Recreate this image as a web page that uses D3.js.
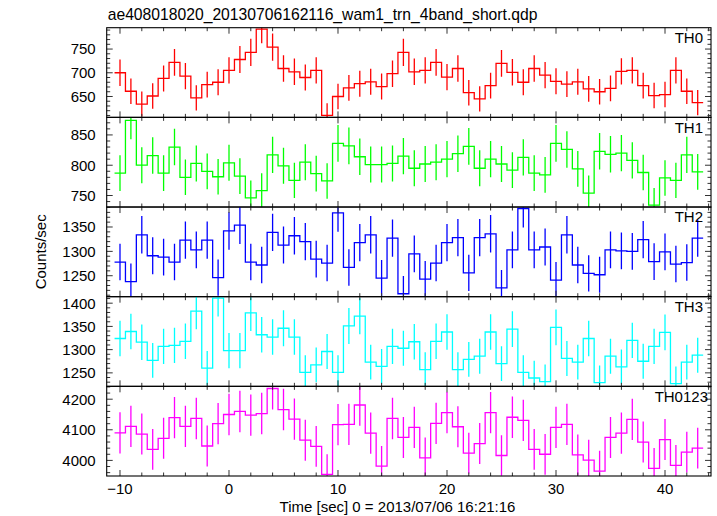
<!DOCTYPE html>
<html>
<head>
<meta charset="utf-8">
<script src="https://cdn.jsdelivr.net/npm/d3@7"></script>
<style>
  html, body { margin: 0; padding: 0; background: #fff; }
  svg { display: block; }
  text { font-family: "Liberation Sans", Arial, Helvetica, sans-serif; fill: #000; }
</style>
</head>
<body>
<svg id="chart" width="717" height="516"></svg>
<script>
// ---------------- data ----------------
const titleText = "ae408018020_20130706162116_wam1_trn_4band_short.qdp";
const xLabel = "Time [sec] 0 = 2013/07/06 16:21:16";
const yLabel = "Counts/sec";

// bin centres (s), 1 s bins
const times = d3.range(-10, 44);

const panelNames = ["TH0", "TH1", "TH2", "TH3", "TH0123"];
const panelColors = ["#ff0000", "#00ff00", "#0000ff", "#00ffff", "#ff00ff"];

const th0 = [700, 661, 634, 651, 688, 722, 693, 647, 675, 680,
  705, 728, 743, 792, 754, 709, 702, 690, 705, 610,
  650, 668, 677, 681, 671, 698, 743, 702, 705, 722,
  691, 709, 658, 645, 673, 720, 701, 680, 709, 695,
  682, 676, 681, 666, 660, 667, 703, 705, 673, 652,
  654, 705, 661, 637];

const th1 = [787, 874, 800, 816, 787, 830, 780, 803, 790, 781,
  804, 782, 746, 758, 817, 799, 775, 805, 786, 774,
  836, 832, 814, 801, 801, 803, 815, 795, 802, 805,
  810, 819, 831, 795, 810, 802, 792, 813, 787, 784,
  836, 826, 794, 754, 823, 818, 820, 808, 788, 734,
  779, 775, 817, 789];

const th2 = [1278, 1238, 1334, 1291, 1288, 1278, 1323, 1303, 1323, 1246,
  1342, 1354, 1278, 1272, 1339, 1313, 1332, 1320, 1284, 1276,
  1379, 1267, 1318, 1334, 1245, 1327, 1213, 1295, 1243, 1276,
  1318, 1328, 1256, 1328, 1336, 1225, 1303, 1388, 1303, 1309,
  1241, 1334, 1272, 1255, 1252, 1303, 1301, 1300, 1324, 1279,
  1299, 1274, 1277, 1327];

const th3 = [1324, 1339, 1316, 1277, 1307, 1309, 1318, 1383, 1260, 1411,
  1298, 1298, 1379, 1332, 1327, 1346, 1327, 1251, 1267, 1296,
  1251, 1351, 1372, 1273, 1264, 1307, 1303, 1317, 1257, 1318,
  1338, 1257, 1279, 1286, 1338, 1270, 1344, 1251, 1239, 1231,
  1348, 1281, 1273, 1324, 1229, 1286, 1263, 1320, 1275, 1307,
  1337, 1227, 1273, 1288];

const th0123 = [4090, 4111, 4086, 4036, 4072, 4140, 4111, 4137, 4047, 4120,
  4150, 4160, 4148, 4153, 4235, 4166, 4135, 4066, 4046, 3954,
  4117, 4118, 4181, 4089, 3981, 4137, 4075, 4108, 4008, 4121,
  4156, 4110, 4024, 4055, 4156, 4016, 4141, 4131, 4036, 4020,
  4108, 4118, 4018, 4001, 3965, 4075, 4089, 4134, 4060, 3974,
  4068, 3984, 4027, 4040];

const panelValues = [th0, th1, th2, th3, th0123];

// y-axis domains and tick labels per panel
const yDomains = [[606, 795], [731, 879], [1207, 1391], [1221, 1414], [3949, 4242]];
const yMajorTicks = [[650, 700, 750], [750, 800, 850], [1250, 1300, 1350],
  [1250, 1300, 1350, 1400], [4000, 4100, 4200]];
const yMinorSteps = [10, 10, 10, 10, 20];

const xDomain = [-11.22, 44.22];
const xMajorTicks = [-10, 0, 10, 20, 30, 40];
const xMinorStep = 2;

// ---------------- layout ----------------
const W = 717, H = 516;
const mLeft = 106.7, mRight = 711, mTop = 27.7, mBottom = 476;
const nP = panelNames.length;
const pH = (mBottom - mTop) / nP;
const binWidth = 1;

const svg = d3.select("#chart");
const defs = svg.append("defs");

const x = d3.scaleLinear().domain(xDomain).range([mLeft, mRight]);

const majLen = 6, minLen = 3.5;
const xMinor = d3.range(-10, 45, xMinorStep).filter(v => !xMajorTicks.includes(v));

panelNames.forEach((name, i) => {
  const y0 = mTop + i * pH, y1 = y0 + pH;
  const y = d3.scaleLinear().domain(yDomains[i]).range([y1, y0]);
  const g = svg.append("g");
  const cid = "clip" + i;
  defs.append("clipPath").attr("id", cid)
    .append("rect").attr("x", mLeft).attr("y", y0)
    .attr("width", mRight - mLeft).attr("height", pH);

  const vals = panelValues[i];
  const col = panelColors[i];

  // step line
  const pts = [];
  times.forEach((t, k) => {
    pts.push([t - binWidth / 2, vals[k]]);
    pts.push([t + binWidth / 2, vals[k]]);
  });
  const line = d3.line().x(d => x(d[0])).y(d => y(d[1]));
  const dg = g.append("g").attr("clip-path", `url(#${cid})`);
  dg.append("path").datum(pts)
    .attr("d", line)
    .attr("fill", "none")
    .attr("stroke", col)
    .attr("stroke-width", 1.3);

  // error bars (Poisson-type statistical errors for 1 s bins)
  dg.selectAll("line.err").data(times).enter().append("line")
    .attr("class", "err")
    .attr("x1", t => x(t)).attr("x2", t => x(t))
    .attr("y1", (t, k) => y(vals[k] - Math.sqrt(vals[k]) * 1.05))
    .attr("y2", (t, k) => y(vals[k] + Math.sqrt(vals[k]) * 1.05))
    .attr("stroke", col)
    .attr("stroke-width", 1.3);

  // ticks: x ticks on top and bottom of each panel (inward)
  const tg = g.append("g").attr("stroke", "#333").attr("stroke-width", 1);
  xMajorTicks.forEach(v => {
    tg.append("line").attr("x1", x(v)).attr("x2", x(v)).attr("y1", y1).attr("y2", y1 - majLen);
    tg.append("line").attr("x1", x(v)).attr("x2", x(v)).attr("y1", y0).attr("y2", y0 + majLen);
  });
  xMinor.forEach(v => {
    tg.append("line").attr("x1", x(v)).attr("x2", x(v)).attr("y1", y1).attr("y2", y1 - minLen);
    tg.append("line").attr("x1", x(v)).attr("x2", x(v)).attr("y1", y0).attr("y2", y0 + minLen);
  });
  // y ticks left and right (inward)
  const ys = yMinorSteps[i];
  const yMin = Math.ceil(yDomains[i][0] / ys) * ys;
  const yAll = d3.range(yMin, yDomains[i][1] + 0.001, ys);
  yAll.forEach(v => {
    const L = yMajorTicks[i].includes(v) ? majLen : minLen;
    tg.append("line").attr("x1", mLeft).attr("x2", mLeft + L).attr("y1", y(v)).attr("y2", y(v));
    tg.append("line").attr("x1", mRight).attr("x2", mRight - L).attr("y1", y(v)).attr("y2", y(v));
  });

  // y tick labels
  yMajorTicks[i].forEach(v => {
    g.append("text").attr("x", mLeft - 11).attr("y", y(v))
      .attr("dy", "0.36em")
      .attr("text-anchor", "end")
      .attr("font-size", 15)
      .text(v);
  });

  // panel frame
  g.append("rect").attr("x", mLeft).attr("y", y0)
    .attr("width", mRight - mLeft).attr("height", pH)
    .attr("fill", "none").attr("stroke", "#000").attr("stroke-width", 1.1);

  // panel name (longer names sit slightly further right, as in the original)
  g.append("text").attr("x", mRight - (name.length > 3 ? 3 : 8)).attr("y", y0 + 15.2)
    .attr("text-anchor", "end").attr("font-size", 15).text(name);
});

// x tick labels on bottom
xMajorTicks.forEach(v => {
  svg.append("text").attr("x", x(v)).attr("y", 493.5)
    .attr("text-anchor", "middle").attr("font-size", 15)
    .text(v < 0 ? "\u2212" + Math.abs(v) : v);
});

// title
svg.append("text").attr("x", mLeft + 1).attr("y", 19.5)
  .attr("font-size", 15.7).text(titleText);

// x label
svg.append("text").attr("x", 397.5).attr("y", 511.5)
  .attr("text-anchor", "middle").attr("font-size", 15).text(xLabel);

// y label
svg.append("text")
  .attr("transform", `translate(46,${(mTop + mBottom) / 2}) rotate(-90)`)
  .attr("text-anchor", "middle").attr("font-size", 15).text(yLabel);
</script>
</body>
</html>
